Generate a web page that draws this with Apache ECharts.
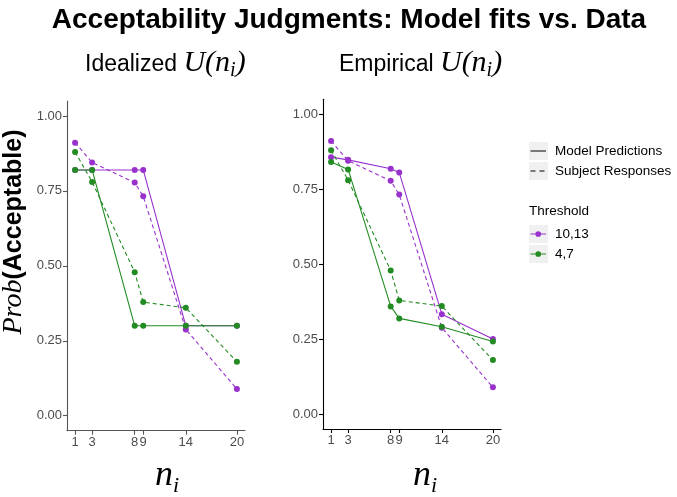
<!DOCTYPE html>
<html><head><meta charset="utf-8">
<script src="https://cdn.jsdelivr.net/npm/echarts@6/dist/echarts.min.js"></script>
<style>html,body{margin:0;padding:0;background:#fff}#c{width:677px;height:497px}</style>
</head><body><div id="c"></div>
<script>
// ---- data ----
const nValues = [1, 3, 8, 9, 14, 20];
const yTicks = [0, 0.25, 0.5, 0.75, 1];
const idealModel1013 = [0.82, 0.82, 0.82, 0.82, 0.30, 0.30];
const idealModel47   = [0.82, 0.82, 0.30, 0.30, 0.30, 0.30];
const empModel1013   = [0.857, 0.848, 0.818, 0.806, 0.333, 0.25];
const empModel47     = [0.841, 0.816, 0.359, 0.319, 0.291, 0.242];
const subject1013    = [0.911, 0.845, 0.778, 0.732, 0.288, 0.089];
const subject47      = [0.88, 0.78, 0.479, 0.379, 0.36, 0.18];
const thresholdNames = ['10,13', '4,7'];
const lineTypeNames = ['Model Predictions', 'Subject Responses'];
const panelTitles = ['Idealized', 'Empirical'];
const mainTitle = 'Acceptability Judgments: Model fits vs. Data';

// ---- style ----
const PURPLE = '#9932CC', GREEN = '#228B22';
const SANS = '"Liberation Sans", Arial, sans-serif';
const SERIF = '"Liberation Serif", "Times New Roman", serif';
const mctx = document.createElement('canvas').getContext('2d');
function tw(text, font) { mctx.font = font; return mctx.measureText(text).width; }

const grids = [
  { left: 67, top: 101, width: 178, height: 329.7 },
  { left: 323, top: 99.3, width: 178, height: 329.7 }
];
const axisColors = ['#555555', '#000000'];

function xAxisFor(i) {
  return {
    gridIndex: i, type: 'value', min: 0.05, max: 20.95,
    splitLine: { show: false },
    axisLine: { show: true, onZero: false, lineStyle: { color: axisColors[i], width: 1.1 } },
    axisTick: { show: true, length: 4, customValues: nValues, lineStyle: { color: axisColors[i], width: 1.1 } },
    axisLabel: { customValues: nValues, color: '#4D4D4D', fontSize: 13, fontFamily: SANS, margin: 5 }
  };
}
function yAxisFor(i) {
  return {
    gridIndex: i, type: 'value', min: -0.05, max: 1.05,
    splitLine: { show: false },
    axisLine: { show: true, onZero: false, lineStyle: { color: axisColors[i], width: 1.1 } },
    axisTick: { show: true, length: 4, customValues: yTicks, lineStyle: { color: axisColors[i], width: 1.1 } },
    axisLabel: { customValues: yTicks, color: '#4D4D4D', fontSize: 13, fontFamily: SANS, margin: 5,
      formatter: v => v.toFixed(2) }
  };
}
function mk(name, idx, vals, color, dashed) {
  return {
    name, type: 'line', xAxisIndex: idx, yAxisIndex: idx,
    data: nValues.map((n, k) => [n, vals[k]]),
    symbol: 'circle', symbolSize: 6, showSymbol: true, color,
    itemStyle: { color },
    lineStyle: { color, width: 1.1, type: dashed ? [4, 3] : 'solid' },
    emphasis: { disabled: true }, animation: false
  };
}
const series = [
  mk(thresholdNames[0], 0, idealModel1013, PURPLE, false),
  mk(thresholdNames[0], 0, subject1013, PURPLE, true),
  mk(thresholdNames[1], 0, idealModel47, GREEN, false),
  mk(thresholdNames[1], 0, subject47, GREEN, true),
  mk(thresholdNames[0], 1, empModel1013, PURPLE, false),
  mk(thresholdNames[0], 1, subject1013, PURPLE, true),
  mk(thresholdNames[1], 1, empModel47, GREEN, false),
  mk(thresholdNames[1], 1, subject47, GREEN, true),
  { name: lineTypeNames[0], type: 'line', data: [], xAxisIndex: 0, yAxisIndex: 0, symbol: 'none',
    color: '#000', itemStyle: { color: '#000' }, lineStyle: { color: '#000', width: 1.1, type: 'solid' } },
  { name: lineTypeNames[1], type: 'line', data: [], xAxisIndex: 0, yAxisIndex: 0, symbol: 'none',
    color: '#000', itemStyle: { color: '#000' }, lineStyle: { color: '#000', width: 1.1, type: [4, 3] } }
];

// legend key icons (19 wide, with invisible end markers to keep full width)
const ends = 'M0,-0.01h0.01v0.02h-0.01z M18.99,-0.01h0.01v0.02h-0.01z ';
const solidIcon = 'path://' + ends + 'M1.5,-0.55h15.5v1.1h-15.5z';
const dashedIcon = 'path://' + ends + 'M1.5,-0.55h5v1.1h-5z M10.5,-0.55h5v1.1h-5z';
const pointIcon = 'path://' + ends + 'M1.5,-0.55h15.5v1.1h-15.5z M12.1,0a2.85,2.85 0 1,1 -5.7,0a2.85,2.85 0 1,1 5.7,0z';

// ---- text graphics ----
const graphics = [];
function txt(text, x, y, font, align, extra) {
  graphics.push(Object.assign({ type: 'text', silent: true,
    style: { text, x, y, font, fill: '#000', align: align || 'left', verticalAlign: 'middle' } }, extra || {}));
}
txt(mainTitle, 349, 29 - 0.32 * 28, 'bold 28px ' + SANS, 'center');
const titleStarts = [85, 339];
panelTitles.forEach((t, i) => {
  const base = 72;
  let x = titleStarts[i];
  const f1 = '23px ' + SANS, f2 = 'italic 30px ' + SERIF, f3 = 'italic 20px ' + SERIF;
  txt(t, x, base - 0.32 * 23, f1); x += tw(t + ' ', f1);
  txt('U(n', x, base - 0.3 * 30, f2); x += tw('U(n', f2);
  txt('i', x, base + 5 - 0.3 * 20, f3); x += tw('i', f3);
  txt(')', x, base - 0.3 * 30, f2);
});
[155, 413].forEach(x0 => {
  const fN = 'italic 36px ' + SERIF, fI = 'italic 22px ' + SERIF;
  txt('n', x0, 486 - 0.3 * 36, fN);
  txt('i', x0 + tw('n', fN), 493 - 0.3 * 22, fI);
});
graphics.push({ type: 'text', silent: true, x: 14, y: 232, rotation: Math.PI / 2,
  style: { text: '{p|Prob}{a|(Acceptable)}', x: 0, y: 0, align: 'center', verticalAlign: 'middle',
    rich: { p: { font: 'italic 28px ' + SERIF, fill: '#000' }, a: { font: 'bold 25px ' + SANS, fill: '#000' } } } });
[142, 162, 225, 245].forEach(y => graphics.push({ type: 'rect', silent: true, z: 0,
  shape: { x: 529, y, width: 19, height: 18 }, style: { fill: '#F0F0F0' } }));
txt('Threshold', 529, 211, '13.5px ' + SANS);

const legendBase = { orient: 'vertical', left: 529, itemWidth: 19, itemHeight: 18, itemGap: 2,
  selectedMode: false, padding: 0, z: 5, symbolKeepAspect: true,
  textStyle: { fontSize: 13.5, lineHeight: 18, height: 18, color: '#000', fontFamily: SANS, padding: [0, 0, 0, 2] } };

const chart = echarts.init(document.getElementById('c'), null, { renderer: 'canvas' });
chart.setOption({
  backgroundColor: '#fff',
  animation: false,
  grid: grids,
  xAxis: [xAxisFor(0), xAxisFor(1)],
  yAxis: [yAxisFor(0), yAxisFor(1)],
  legend: [
    Object.assign({}, legendBase, { top: 142, data: [
      { name: lineTypeNames[0], icon: solidIcon }, { name: lineTypeNames[1], icon: dashedIcon } ] }),
    Object.assign({}, legendBase, { top: 225, data: [
      { name: thresholdNames[0], icon: pointIcon }, { name: thresholdNames[1], icon: pointIcon } ] })
  ],
  series,
  graphic: { elements: graphics }
});
</script></body></html>
